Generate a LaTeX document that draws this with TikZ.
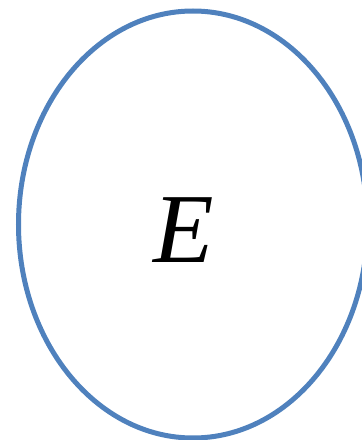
\documentclass[tikz,border=0pt]{standalone}
\usepackage{fontspec}
\setmainfont{Liberation Serif}
\usetikzlibrary{shapes.geometric}
\definecolor{ellblue}{RGB}{79,129,189}
\tikzset{ellstyle/.style={draw=ellblue,line width=5pt,ellipse,minimum width=349pt,minimum height=427pt,inner sep=0pt},
lbl/.style={font=\fontsize{99}{99}\selectfont\itshape,inner sep=0pt}}
\begin{document}
\begin{tikzpicture}[x=1pt,y=1pt]
\useasboundingbox (0,0) rectangle (362,440);
\clip (0,0) rectangle (362,440);
\node[ellstyle] (ell) at (193,215.5) {};
\node[lbl] (e) at (184,210) {E};
\end{tikzpicture}
\end{document}
